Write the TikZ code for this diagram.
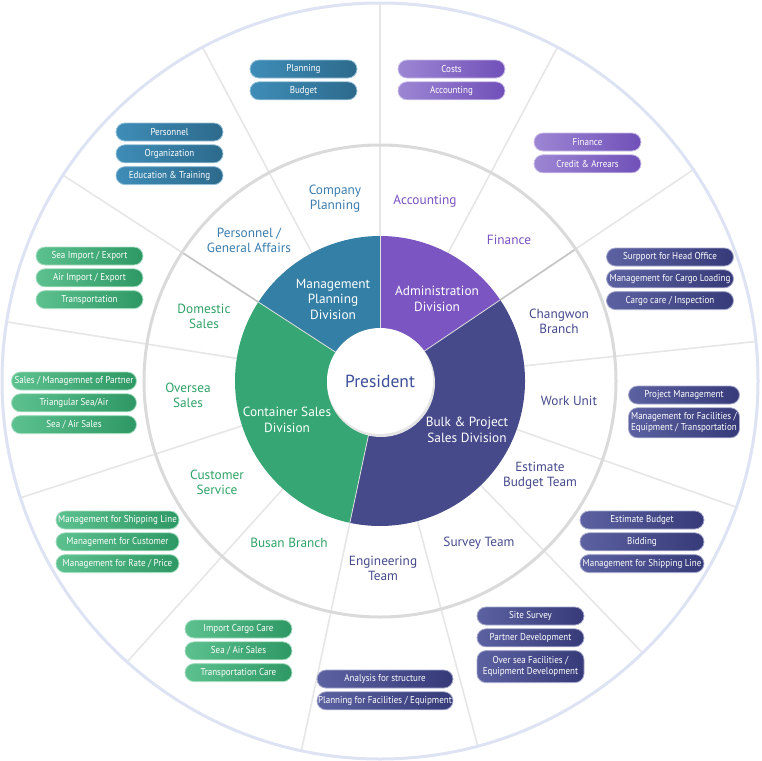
\documentclass[tikz,border=0pt]{standalone}
\usepackage{fontspec}
\setmainfont{PT Sans}
\newfontfamily\pillfont[FakeStretch=0.9]{PT Sans}
\usetikzlibrary{positioning}
\definecolor{mgmtblue}{HTML}{337FA5}
\definecolor{mgmtlight}{HTML}{3E8DB8}
\definecolor{mgmtdark}{HTML}{2D6A8C}
\definecolor{mgmttext}{HTML}{3A7DAE}
\definecolor{adminpurple}{HTML}{7B56C2}
\definecolor{adminlight}{HTML}{9D86D4}
\definecolor{admindark}{HTML}{7050B8}
\definecolor{admintext}{HTML}{7A52C0}
\definecolor{bulkindigo}{HTML}{464A8B}
\definecolor{bulklight}{HTML}{5C61A1}
\definecolor{bulkdark}{HTML}{363A78}
\definecolor{bulktext}{HTML}{454A8C}
\definecolor{contgreen}{HTML}{36A774}
\definecolor{contlight}{HTML}{5CC18F}
\definecolor{contdark}{HTML}{2E9864}
\definecolor{conttext}{HTML}{2EA266}
\definecolor{presblue}{HTML}{3D4F9A}
\definecolor{ringgray}{HTML}{DADADA}
\definecolor{spokegray}{HTML}{E6E6E6}
\definecolor{outerring}{HTML}{DDE3F2}

\begin{document}
\begin{tikzpicture}[x=1pt,y=-1pt,
  pill/.style={rounded corners=9pt,minimum height=18pt,inner sep=1pt,
    text=white,font=\pillfont\fontsize{10}{11}\selectfont,align=center,
    line width=0.8pt},
  pillblue/.style={pill,left color=mgmtlight,right color=mgmtdark,
    draw=mgmtlight!55!white},
  pillpurple/.style={pill,left color=adminlight,right color=admindark,
    draw=adminlight!55!white},
  pillindigo/.style={pill,left color=bulklight,right color=bulkdark,
    draw=bulklight!55!white},
  pillgreen/.style={pill,left color=contlight,right color=contdark,
    draw=contlight!55!white},
  ringlabel/.style={font=\fontsize{13.3}{15}\selectfont,align=center},
  divlabel/.style={font=\fontsize{13.3}{15.5}\selectfont,align=center,
    text=white},
  spoke/.style={spokegray,line width=1.6pt}
]
  \useasboundingbox (0,0) rectangle (761,761);
  \coordinate (centre) at (380,381);

  % rings and spokes
  \begin{scope}[shift={(centre)}]
    \foreach \a in {6,34,62,90,118,147,171,198,228,258,285,314,340.5}
      \draw[spoke] (-\a:145) -- (-\a:378);
    \foreach \a in {34,147}
      \draw[gray!45,line width=1.6pt] (-\a:145) -- (-\a:236);
    \draw[ringgray,line width=3pt] (0,0) circle[radius=236];
    \draw[outerring,line width=3pt] (0,0) circle[radius=378];

    % divisions
    \fill[mgmtblue] (-147:145) arc[start angle=-147,end angle=-90,radius=145]
      -- (0,0) -- cycle;
    \fill[adminpurple] (-90:145) arc[start angle=-90,end angle=-34,radius=145]
      -- (0,0) -- cycle;
    \fill[bulkindigo] (-34:145) arc[start angle=-34,end angle=102,radius=145]
      -- (0,0) -- cycle;
    \fill[contgreen] (102:145) arc[start angle=102,end angle=213,radius=145]
      -- (0,0) -- cycle;
    \foreach \a in {34,90,147,258}
      \draw[white!75!gray,line width=0.8pt] (-\a:53) -- (-\a:145);
    \fill[black!10] (1,2) circle[radius=54];
    \fill[white] (0,0) circle[radius=53];
  \end{scope}

  \node[font=\fontsize{17.5}{20}\selectfont,text=presblue] (president)
    at (centre) {President};
  \node[divlabel] (mgmtdiv) at (333,299) {Management\\Planning\\Division};
  \node[divlabel] (admindiv) at (437,299) {Administration\\Division};
  \node[divlabel] (contdiv) at (287,420) {Container Sales\\Division};
  \node[divlabel] (bulkdiv) at (467,430) {Bulk \& Project\\Sales Division};

  % teams
  \node[ringlabel,text=mgmttext] (companyplan) at (335,199)
    {Company\\Planning};
  \node[ringlabel,text=mgmttext] (genaffairs) at (249,240)
    {Personnel /\\General Affairs};
  \node[ringlabel,text=admintext] (accountteam) at (425,201) {Accounting};
  \node[ringlabel,text=admintext] (financeteam) at (509,240) {Finance};
  \node[ringlabel,text=bulktext] (changwon) at (559,321) {Changwon\\Branch};
  \node[ringlabel,text=bulktext] (workunit) at (569,401) {Work Unit};
  \node[ringlabel,text=bulktext] (estteam) at (540,476)
    {Estimate\\Budget Team};
  \node[ringlabel,text=bulktext] (surveyteam) at (479,543) {Survey Team};
  \node[ringlabel,text=bulktext] (engteam) at (383,568)
    {Engineering\\Team};
  \node[ringlabel,text=conttext] (busan) at (289,543) {Busan Branch};
  \node[ringlabel,text=conttext] (custservice) at (217,482)
    {Customer\\Service};
  \node[ringlabel,text=conttext] (oversea) at (188,395) {Oversea\\Sales};
  \node[ringlabel,text=conttext] (domestic) at (204,316) {Domestic\\Sales};

  % tasks
  \node[pillblue,minimum width=107pt] (planning) at (303.5,69) {Planning};
  \node[pillblue,minimum width=107pt,below=3pt of planning] (budget)
    {Budget};
  \node[pillblue,minimum width=107pt] (personnel) at (169.5,132)
    {Personnel};
  \node[pillblue,minimum width=107pt,below=3pt of personnel] (organization)
    {Organization};
  \node[pillblue,minimum width=107pt,below=3pt of organization] (education)
    {Education \& Training};

  \node[pillpurple,minimum width=107pt] (costs) at (451.5,69) {Costs};
  \node[pillpurple,minimum width=107pt,below=3pt of costs] (accounting)
    {Accounting};
  \node[pillpurple,minimum width=107pt] (finance) at (587.5,142) {Finance};
  \node[pillpurple,minimum width=107pt,below=3pt of finance] (credit)
    {Credit \& Arrears};

  \node[pillindigo,minimum width=127pt] (support) at (670,257)
    {Surpport for Head Office};
  \node[pillindigo,minimum width=127pt,below=3pt of support] (cargoload)
    {Management for Cargo Loading};
  \node[pillindigo,minimum width=127pt,below=3pt of cargoload] (inspection)
    {Cargo care / Inspection};
  \node[pillindigo,minimum width=111pt] (projmgmt) at (684,395)
    {Project Management};
  \node[pillindigo,minimum width=111pt,minimum height=30pt,
    below=3pt of projmgmt] (facilities)
    {Management for Facilities /\\Equipment / Transportation};
  \node[pillindigo,minimum width=124pt] (estbudget) at (642,520)
    {Estimate Budget};
  \node[pillindigo,minimum width=124pt,below=3pt of estbudget] (bidding)
    {Bidding};
  \node[pillindigo,minimum width=124pt,below=3pt of bidding] (shipline)
    {Management for Shipping Line};
  \node[pillindigo,minimum width=107pt] (sitesurvey) at (530.5,616)
    {Site Survey};
  \node[pillindigo,minimum width=107pt,below=3pt of sitesurvey] (partnerdev)
    {Partner Development};
  \node[pillindigo,minimum width=107pt,minimum height=32pt,
    below=3pt of partnerdev] (overseadev)
    {Over sea Facilities /\\Equipment Development};
  \node[pillindigo,minimum width=136pt] (analysis) at (385,679)
    {Analysis for structure};
  \node[pillindigo,minimum width=136pt,below=3pt of analysis] (planfacil)
    {Planning for Facilities / Equipment};

  \node[pillgreen,minimum width=107pt] (seaimport) at (89.5,256)
    {Sea Import / Export};
  \node[pillgreen,minimum width=107pt,below=3pt of seaimport] (airimport)
    {Air Import / Export};
  \node[pillgreen,minimum width=107pt,below=3pt of airimport] (transport)
    {Transportation};
  \node[pillgreen,minimum width=125pt] (salespartner) at (74,381)
    {Sales / Managemnet of Partner};
  \node[pillgreen,minimum width=125pt,below=3pt of salespartner] (triangular)
    {Triangular Sea/Air};
  \node[pillgreen,minimum width=125pt,below=3pt of triangular] (seaair)
    {Sea / Air Sales};
  \node[pillgreen,minimum width=123pt] (shipgreen) at (117.5,520)
    {Management for Shipping Line};
  \node[pillgreen,minimum width=123pt,below=3pt of shipgreen] (customer)
    {Management for Customer};
  \node[pillgreen,minimum width=123pt,below=3pt of customer] (rateprice)
    {Management for Rate / Price};
  \node[pillgreen,minimum width=107pt] (importcargo) at (238.5,629)
    {Import Cargo Care};
  \node[pillgreen,minimum width=107pt,below=3pt of importcargo] (seaairtwo)
    {Sea / Air Sales};
  \node[pillgreen,minimum width=107pt,below=3pt of seaairtwo] (transcare)
    {Transportation Care};
\end{tikzpicture}
\end{document}
